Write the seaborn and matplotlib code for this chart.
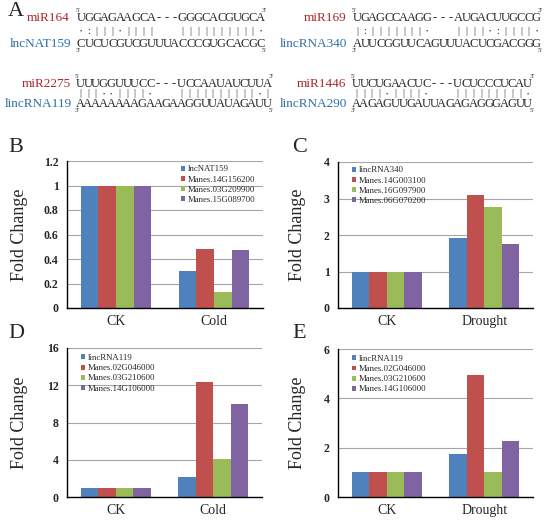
import pandas as pd
import numpy as np
import matplotlib
matplotlib.use('Agg')
import matplotlib.pyplot as plt
from matplotlib.ticker import FuncFormatter, FixedLocator
import seaborn as sns

# --- data ---
conditions_cold = ['CK', 'Cold']
conditions_drought = ['CK', 'Drought']

genes_B = ['lncNAT159', 'Manes.14G156200', 'Manes.03G209900', 'Manes.15G089700']
ck_B = [1.0, 1.0, 1.0, 1.0]
cold_B = [0.30, 0.48, 0.13, 0.47]

genes_C = ['lincRNA340', 'Manes.14G003100', 'Manes.16G097900', 'Manes.06G070200']
ck_C = [1.0, 1.0, 1.0, 1.0]
drought_C = [1.91, 3.10, 2.77, 1.75]

genes_DE = ['lincRNA119', 'Manes.02G046000', 'Manes.03G210600', 'Manes.14G106000']
ck_D = [1.0, 1.0, 1.0, 1.0]
cold_D = [2.15, 12.3, 4.05, 10.0]
ck_E = [1.0, 1.0, 1.0, 1.0]
drought_E = [1.73, 4.93, 1.02, 2.28]

# sequence pairs: (mi name, mi seq, bonds, lnc name, lnc seq)
pair1 = ('miR164', 'UGGAGAAGCA---GGGCACGUGCA', '•:|||•||||   ||||||||||•',
         'lncNAT159', 'CUCUCGUCGUUUACCCGUGCACGC')
pair2 = ('miR2275', 'UUUGGUUUCC---UCCAAUAUCUUA', '|||••||||•   ||||||||||•|',
         'lincRNA119', 'AAAAAAAAGAAGAAGGUUAUAGAUU')
pair3 = ('miR169', 'UGAGCCAAGG---AUGACUUGCCG', '|:|||||||•   ||||•:||||•',
         'lincRNA340', 'AUUCGGUUCAGUUUACUCGACGGG')
pair4 = ('miR1446', 'UUCUGAACUC---UCUCCCUCAU', '||||•||||•   |||||||||•',
         'lincRNA290', 'AAGAGUUGAUUAGAGAGGGAGUU')

colors = ['#4F81BD', '#C0504D', '#9BBB59', '#8064A2']
mi_color = '#A8282E'
lnc_color = '#2E6EA6'

sns.set_style('white')
plt.rcParams['font.family'] = ['Liberation Serif', 'DejaVu Serif']

W, H = 551, 520
fig = plt.figure(figsize=(W / 100, H / 100), dpi=100)


def px(x, y):
    return x / W, 1 - y / H


# --- panel A ---
def draw_pair(p, x_label, x0, y_top, y_bond, y_bot, step=7.8):
    mi_name, mi_seq, bonds, lnc_name, lnc_seq = p
    fig.text(*px(x_label, y_top), mi_name, ha='right', va='center', fontsize=9.5, color=mi_color)
    fig.text(*px(x_label + 1, y_bot), lnc_name, ha='right', va='center', fontsize=9.5, color=lnc_color)
    for i, ch in enumerate(mi_seq):
        fig.text(*px(x0 + i * step, y_top), ch, ha='center', va='center', fontsize=9)
    for i, ch in enumerate(lnc_seq):
        fig.text(*px(x0 + i * step, y_bot), ch, ha='center', va='center', fontsize=9)
    for i, ch in enumerate(bonds):
        if ch == ' ':
            continue
        fs = 4.5 if ch == '•' else 7.5
        fig.text(*px(x0 + i * step, y_bond), ch, ha='center', va='center', fontsize=fs)
    x_end_top = x0 + (len(mi_seq) - 1) * step
    x_end_bot = x0 + (len(lnc_seq) - 1) * step
    fig.text(*px(x0 - 3, y_top - 8), "5'", ha='center', va='center', fontsize=5)
    fig.text(*px(x_end_top + 4, y_top - 7), "3'", ha='center', va='center', fontsize=5)
    fig.text(*px(x0 - 3, y_bot + 7), "3'", ha='center', va='center', fontsize=5)
    fig.text(*px(x_end_bot + 4, y_bot + 7), "5'", ha='center', va='center', fontsize=5)


fig.text(*px(8, 12), 'A', ha='left', va='center', fontsize=16)
draw_pair(pair1, 70, 81, 18, 31, 44)
draw_pair(pair2, 71, 80, 84, 94, 104)
draw_pair(pair3, 346, 357, 18, 31, 44)
draw_pair(pair4, 346, 356, 84, 94, 104)


# --- bar panels ---
def bar_panel(rect, conds, genes, ck, treat, ymax, ystep, leg_anchor, letter, letter_xy):
    left, top, right, bottom = rect
    ax = fig.add_axes([left / W, 1 - bottom / H, (right - left) / W, (bottom - top) / H])
    df = pd.DataFrame({
        'condition': [conds[0]] * len(genes) + [conds[1]] * len(genes),
        'gene': genes + genes,
        'fold': ck + treat,
    })
    sns.barplot(data=df, x='condition', y='fold', hue='gene', hue_order=genes,
                palette=colors, saturation=1, width=0.72, errorbar=None, ax=ax)
    ax.set_ylim(0, ymax)
    ax.set_xlim(-0.5, 1.5)
    ax.set_yticks(np.arange(0, ymax + ystep / 2, ystep))
    ax.yaxis.set_major_formatter(FuncFormatter(lambda v, pos: f'{v:g}'))
    ax.grid(axis='y', color='#A6A6A6', linewidth=0.8)
    ax.grid(axis='x', visible=False)
    ax.set_axisbelow(True)
    for s in ['top', 'right']:
        ax.spines[s].set_visible(False)
    for s in ['left', 'bottom']:
        ax.spines[s].set_color('black')
        ax.spines[s].set_linewidth(1)
    for b in ax.patches:
        b.set_edgecolor('none')
    ax.tick_params(axis='y', length=3, width=1, color='black', direction='out', pad=3, labelsize=8.5)
    for t in ax.get_yticklabels():
        t.set_fontweight('bold')
    ax.tick_params(axis='x', which='major', length=0, pad=5, labelsize=10)
    ax.xaxis.set_minor_locator(FixedLocator([-0.5, 0.5, 1.5]))
    ax.tick_params(axis='x', which='minor', length=3, width=1, color='black', direction='out')
    ax.set_xlabel('')
    ax.set_ylabel('Fold Change', fontsize=13)
    ax.yaxis.set_label_coords(-0.2, 0.5)
    ax.legend(loc='upper left', bbox_to_anchor=leg_anchor, frameon=False, fontsize=6.3,
              handlelength=0.5, handleheight=0.5, handletextpad=0.3, labelspacing=0.25,
              borderaxespad=0, borderpad=0)
    fig.text(*px(*letter_xy), letter, ha='left', va='center', fontsize=16)
    return ax


bar_panel((67, 161, 263, 308), conditions_cold, genes_B, ck_B, cold_B, 1.2, 0.2,
          (0.58, 0.97), 'B', (8, 147))
axC = bar_panel((338, 162, 533, 308), conditions_drought, genes_C, ck_C, drought_C, 4, 1,
                (0.07, 0.97), 'C', (292, 147))
bar_panel((67, 348, 262, 497), conditions_cold, genes_DE, ck_D, cold_D, 16, 4,
          (0.07, 0.96), 'D', (8, 333))
axE = bar_panel((338, 349, 533, 497), conditions_drought, genes_DE, ck_E, drought_E, 6, 2,
                (0.07, 0.96), 'E', (292, 333))
axC.yaxis.set_label_coords(-0.165, 0.5)
axE.yaxis.set_label_coords(-0.165, 0.5)

fig.savefig('out.png', dpi=100)
